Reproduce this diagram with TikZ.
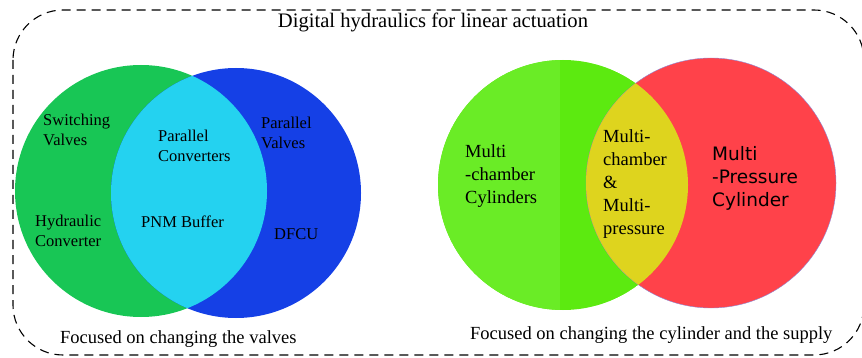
\documentclass[tikz,border=0pt]{standalone}
\usepackage{fontspec}
\setmainfont{Liberation Serif}
\newfontfamily\dvsans{DejaVu Sans}
\definecolor{cgreen}{RGB}{24,198,85}
\definecolor{cblue}{RGB}{21,64,230}
\definecolor{ccyan}{RGB}{36,210,240}
\definecolor{lgreenA}{RGB}{106,236,38}
\definecolor{lgreenB}{RGB}{92,234,16}
\definecolor{cred}{RGB}{255,66,74}
\definecolor{cyellow}{RGB}{222,212,30}
\tikzset{
  lbl/.style={anchor=west, align=left, inner sep=0pt, font=\fontsize{16.5}{20.5}\selectfont},
  captiontext/.style={anchor=west, align=left, inner sep=0pt, font=\fontsize{18.5}{22}\selectfont},
  lblb/.style={anchor=west, align=left, inner sep=0pt, font=\fontsize{18.5}{23}\selectfont},
  lbls/.style={anchor=west, align=left, inner sep=0pt, font=\dvsans\fontsize{18.5}{23}\selectfont},
  frame/.style={draw, dashed, dash pattern=on 9pt off 6pt, line width=1.1pt, rounded corners=50pt},
}
\begin{document}
\begin{tikzpicture}[x=1pt,y=-1pt]
\useasboundingbox (0,0) rectangle (862,358);
% frame
\draw[frame] (13,10) rectangle (864,355);
\node[font=\fontsize{20.6}{24}\selectfont, inner sep=0pt] (title) at (433,22) {Digital hydraulics for linear actuation};
% left venn
\coordinate (cg) at (141,191);
\coordinate (cb) at (236,193);
\fill[cgreen] (cg) circle (126);
\fill[cblue] (cb) circle (125);
\begin{scope}
  \clip (cg) circle (126);
  \fill[ccyan] (cb) circle (125);
\end{scope}
% right venn
\coordinate (rg) at (563,185);
\coordinate (rr) at (711,183);
\begin{scope}
  \clip (rg) circle (125);
  \fill[lgreenB] (rg) circle (125);
  \fill[lgreenA] (430,50) rectangle (560,320);
\end{scope}
\fill[cred] (rr) circle (125);
\draw[gray!50!blue!60, line width=0.4pt] (rr) circle (125);
\begin{scope}
  \clip (rg) circle (125);
  \fill[cyellow] (rr) circle (125);
\end{scope}
% left labels
\node[lbl] (sv) at (43,130) {Switching\\Valves};
\node[lbl] (pc) at (158,146) {Parallel\\Converters};
\node[lbl] (pv) at (261,133) {Parallel\\Valves};
\node[lbl] (hc) at (35,231) {Hydraulic\\Converter};
\node[lbl] (pnm) at (141,222) {PNM Buffer};
\node[lbl] (dfcu) at (274,234) {DFCU};
% right labels
\node[lblb] (mc) at (465,176) {Multi\\-chamber\\Cylinders};
\node[lblb] (mcmp) at (603,184) {Multi-\\chamber\\\&\\Multi-\\pressure};
\node[lbls] (mp) at (712,178) {Multi\\-Pressure\\Cylinder};
% bottom captions
\node[captiontext] (capL) at (60,339) {Focused on changing the valves};
\node[captiontext] (capR) at (470,335) {Focused on changing the cylinder and the supply};
\end{tikzpicture}
\end{document}
